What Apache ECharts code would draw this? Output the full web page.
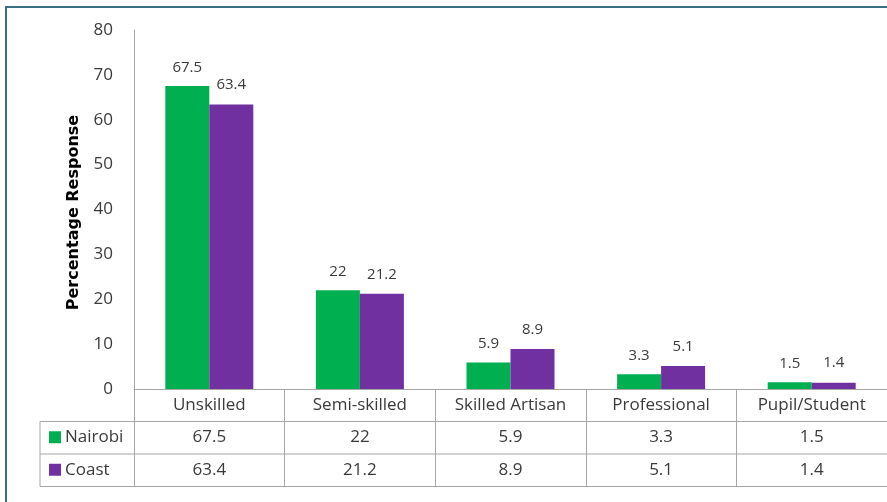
<!DOCTYPE html>
<html><head><meta charset="utf-8">
<script src="https://cdn.jsdelivr.net/npm/echarts@6/dist/echarts.min.js"></script>
<style>html,body{margin:0;padding:0;background:#fff}#c{width:887px;height:502px}</style>
</head><body><div id="c"></div>
<script>
const categories = ['Unskilled', 'Semi-skilled', 'Skilled Artisan', 'Professional', 'Pupil/Student'];
const nairobi = [67.5, 22, 5.9, 3.3, 1.5];
const coast = [63.4, 21.2, 8.9, 5.1, 1.4];
const yTicks = [0, 80, 10];

const FONT = '"Open Sans", "Noto Sans", sans-serif';
const TXT = '#3a3a3a';
const LINE = '#a6a6a6';
const GL = 134, GT = 30, GW = 760, GH = 359, ROW = 32.5;
const TFS = 17;

const chart = echarts.init(document.getElementById('c'), null, {renderer: 'canvas'});
const rowAxis = (vals, off) => ({
  type: 'category', data: vals.map(String), position: 'bottom', offset: off,
  axisLine: {show: false}, axisTick: {show: false},
  axisLabel: {fontFamily: FONT, fontSize: TFS, color: TXT, verticalAlign: 'middle', margin: 16}
});
const legendCommon = {
  orient: 'horizontal', left: 49, padding: 0, itemWidth: 12, itemHeight: 12, itemGap: 4,
  icon: 'rect', selectedMode: false,
  textStyle: {fontFamily: FONT, fontSize: TFS, color: TXT, padding: [0, 0, 0, -1]}
};
chart.setOption({
  animation: false,
  textStyle: {fontFamily: FONT},
  grid: {left: GL, top: GT, width: GW, height: GH, containLabel: false},
  legend: [
    Object.assign({data: ['Nairobi'], top: GT + GH + ROW * 1.5 - 9}, legendCommon),
    Object.assign({data: ['Coast'], top: GT + GH + ROW * 2.5 - 9}, legendCommon)
  ],
  xAxis: [
    {
      type: 'category', data: categories,
      axisLine: {show: true, lineStyle: {color: LINE, width: 1}},
      axisTick: {show: true, length: ROW * 3, lineStyle: {color: LINE}},
      axisLabel: {fontFamily: FONT, fontSize: TFS, color: TXT, verticalAlign: 'middle', margin: 16}
    },
    rowAxis(nairobi, ROW),
    rowAxis(coast, ROW * 2)
  ],
  yAxis: {
    type: 'value', min: yTicks[0], max: yTicks[1], interval: yTicks[2],
    name: 'Percentage Response', nameLocation: 'middle', nameRotate: 90, nameGap: 52,
    nameTextStyle: {fontFamily: '"DejaVu Sans", sans-serif', fontSize: 16, fontWeight: 'bold', color: '#000', padding: [0, 0, 0, -6]},
    axisLine: {show: true, lineStyle: {color: LINE}},
    axisTick: {show: false}, splitLine: {show: false},
    axisLabel: {fontFamily: FONT, fontSize: 17, color: TXT, margin: 21}
  },
  series: [
    {name: 'Nairobi', type: 'bar', data: nairobi, barWidth: 44, barGap: '0%',
     itemStyle: {color: '#00B050'},
     label: {show: true, position: 'top', distance: 11, fontFamily: FONT, fontSize: 15, color: TXT}},
    {name: 'Coast', type: 'bar', data: coast, barWidth: 44, barGap: '0%',
     itemStyle: {color: '#7030A0'},
     label: {show: true, position: 'top', distance: 12, fontFamily: FONT, fontSize: 15, color: TXT}}
  ],
  graphic: [
    {type: 'rect', shape: {x: 6, y: 7, width: 900, height: 520}, silent: true,
     style: {fill: 'none', stroke: '#3b6f84', lineWidth: 2}},
    {type: 'line', shape: {x1: 40, y1: GT + GH + ROW, x2: GL + GW, y2: GT + GH + ROW}, style: {stroke: LINE, lineWidth: 1}},
    {type: 'line', shape: {x1: 40, y1: GT + GH + ROW * 2, x2: GL + GW, y2: GT + GH + ROW * 2}, style: {stroke: LINE, lineWidth: 1}},
    {type: 'line', shape: {x1: 40, y1: GT + GH + ROW * 3, x2: GL + GW, y2: GT + GH + ROW * 3}, style: {stroke: LINE, lineWidth: 1}},
    {type: 'line', shape: {x1: 40, y1: GT + GH + ROW, x2: 40, y2: GT + GH + ROW * 3}, style: {stroke: LINE, lineWidth: 1}}
  ]
});
</script></body></html>
